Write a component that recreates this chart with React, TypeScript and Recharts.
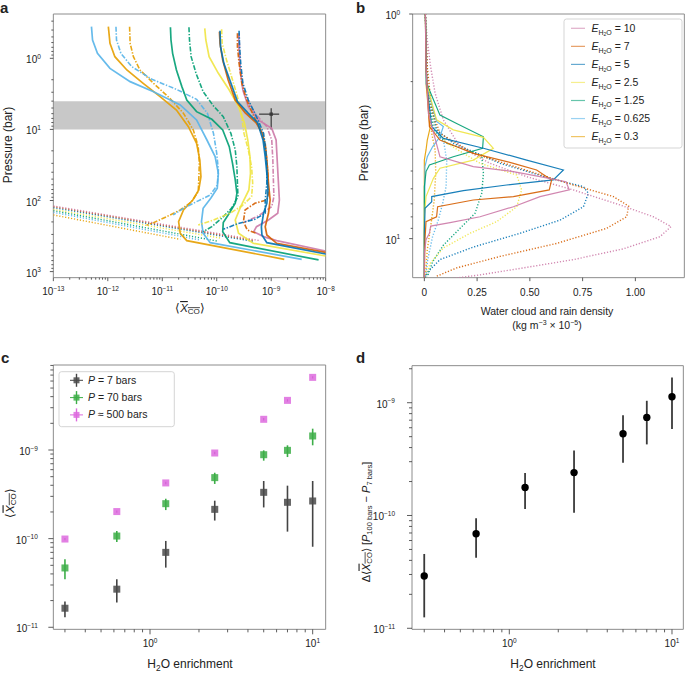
import React from 'react';
import { ScatterChart, Scatter, XAxis, YAxis, ReferenceArea, ErrorBar } from 'recharts';

const FONT = '"Liberation Sans", Arial, sans-serif';
const INK = '#222';
const TICK = '#333';
const FRAME = '#8c8c8c';

const C10 = '#CC79A7';
const C7 = '#D55E00';
const C5 = '#0072B2';
const C25 = '#F0E442';
const C125 = '#009E73';
const C0625 = '#56B4E9';
const C03 = '#E69F00';

type Pair = [number, number];

// ---- panel a: [log10 <X_CO>, log10 pressure(bar)] ----
const aPinkSolid: Pair[] = [[-9.60, -0.352], [-9.59, -0.117], [-9.57, 0.164], [-9.52, 0.445], [-9.42, 0.680], [-9.24, 0.867], [-8.99, 0.985], [-8.91, 1.149], [-8.89, 1.430], [-8.87, 1.711], [-8.85, 1.993], [-8.88, 2.180], [-9.05, 2.274], [-9.27, 2.368], [-9.32, 2.438], [-9.14, 2.508], [-8.90, 2.564], [-8.00, 2.710]];
const aPinkDash: Pair[] = [[-9.59, -0.352], [-9.57, 0.117], [-9.50, 0.492], [-9.30, 0.774], [-9.08, 0.961], [-8.99, 1.149], [-8.97, 1.430], [-8.96, 1.711], [-8.95, 1.946], [-8.99, 2.086], [-9.24, 2.218], [-9.51, 2.311]];
const aPinkDot: Pair[] = [[-13.0, 2.077], [-9.21, 2.564]];
const aRedSolid: Pair[] = [[-9.95, -0.375], [-9.94, -0.211], [-9.89, 0.023], [-9.79, 0.305], [-9.66, 0.586], [-9.48, 0.764], [-9.28, 0.905], [-9.16, 1.055], [-9.10, 1.289], [-9.07, 1.524], [-9.05, 1.758], [-9.02, 1.993], [-9.05, 2.180], [-9.11, 2.368], [-9.08, 2.485], [-8.90, 2.602], [-8.00, 2.729]];
const aRedDash: Pair[] = [[-9.62, -0.352], [-9.62, -0.164], [-9.59, 0.070], [-9.54, 0.352], [-9.45, 0.586], [-9.33, 0.797], [-9.21, 0.985], [-9.11, 1.196], [-9.08, 1.430], [-9.06, 1.664], [-9.05, 1.899], [-9.08, 1.993], [-9.30, 2.039], [-9.48, 2.133], [-9.51, 2.297], [-9.44, 2.414], [-9.27, 2.461]];
const aRedDot: Pair[] = [[-13.0, 2.086], [-9.33, 2.560]];
const aBlueSolid: Pair[] = [[-9.94, -0.389], [-9.93, -0.164], [-9.87, 0.070], [-9.76, 0.305], [-9.62, 0.609], [-9.42, 0.774], [-9.25, 0.905], [-9.15, 1.149], [-9.11, 1.383], [-9.08, 1.617], [-9.06, 1.852], [-9.08, 2.039], [-9.14, 2.180], [-9.18, 2.368], [-9.17, 2.485], [-9.08, 2.593], [-8.00, 2.752]];
const aBlueDash: Pair[] = [[-9.59, -0.389], [-9.58, -0.164], [-9.56, 0.070], [-9.52, 0.352], [-9.42, 0.586], [-9.27, 0.820], [-9.14, 1.055], [-9.10, 1.289], [-9.08, 1.524], [-9.08, 1.758], [-9.11, 1.993], [-9.11, 2.180], [-9.30, 2.264], [-9.63, 2.330], [-9.88, 2.405]];
const aBlueDot: Pair[] = [[-13.0, 2.100], [-9.33, 2.574]];
const aYellowSolid: Pair[] = [[-10.22, -0.422], [-10.20, -0.258], [-10.14, -0.023], [-9.97, 0.211], [-9.77, 0.445], [-9.60, 0.680], [-9.49, 0.914], [-9.43, 1.149], [-9.39, 1.383], [-9.38, 1.617], [-9.41, 1.852], [-9.56, 2.086], [-9.66, 2.274], [-9.60, 2.461], [-9.33, 2.602], [-8.00, 2.780]];
const aYellowDash: Pair[] = [[-9.91, -0.408], [-9.90, -0.211], [-9.82, 0.023], [-9.71, 0.305], [-9.62, 0.539], [-9.55, 0.774], [-9.50, 1.055], [-9.42, 1.289], [-9.36, 1.524], [-9.34, 1.758], [-9.36, 1.946], [-9.54, 2.077], [-9.76, 2.180], [-10.06, 2.274], [-10.34, 2.344]];
const aYellowDot: Pair[] = [[-13.0, 2.124], [-9.94, 2.527]];
const aGreenSolid: Pair[] = [[-10.85, -0.436], [-10.84, -0.258], [-10.81, -0.070], [-10.74, 0.164], [-10.64, 0.398], [-10.55, 0.586], [-10.37, 0.750], [-10.09, 0.858], [-9.89, 1.008], [-9.77, 1.242], [-9.71, 1.477], [-9.66, 1.711], [-9.63, 1.899], [-9.66, 2.039], [-9.77, 2.180], [-9.88, 2.311], [-9.89, 2.438], [-9.76, 2.593], [-8.13, 2.836]];
const aGreenDash: Pair[] = [[-10.51, -0.436], [-10.50, -0.258], [-10.47, -0.023], [-10.38, 0.211], [-10.25, 0.469], [-10.06, 0.670], [-9.88, 0.820], [-9.74, 1.055], [-9.66, 1.289], [-9.63, 1.524], [-9.62, 1.758], [-9.61, 1.946], [-9.73, 2.110], [-9.91, 2.250], [-10.09, 2.368], [-10.25, 2.438]];
const aGreenDot: Pair[] = [[-13.0, 2.142], [-10.0, 2.569]];
const aSkySolid: Pair[] = [[-12.30, -0.445], [-12.28, -0.258], [-12.19, -0.070], [-11.96, 0.141], [-11.59, 0.328], [-11.16, 0.469], [-10.67, 0.656], [-10.37, 0.867], [-10.18, 1.149], [-10.03, 1.383], [-9.97, 1.617], [-9.99, 1.828], [-10.11, 1.969], [-10.25, 2.110], [-10.28, 2.297], [-10.25, 2.461], [-10.12, 2.593], [-8.44, 2.827]];
const aSkyDash: Pair[] = [[-11.85, -0.445], [-11.84, -0.258], [-11.76, -0.070], [-11.56, 0.117], [-11.19, 0.295], [-10.74, 0.436], [-10.37, 0.577], [-10.17, 0.774], [-10.06, 1.055], [-10.00, 1.336], [-9.97, 1.571], [-9.99, 1.782], [-10.12, 1.922], [-10.37, 2.016], [-10.61, 2.110], [-10.80, 2.203]];
const aSkyDot: Pair[] = [[-13.0, 2.166], [-10.31, 2.555]];
const aOrangeSolid: Pair[] = [[-11.99, -0.445], [-11.96, -0.211], [-11.87, -0.023], [-11.65, 0.164], [-11.35, 0.352], [-11.04, 0.539], [-10.74, 0.727], [-10.52, 0.961], [-10.37, 1.196], [-10.31, 1.430], [-10.29, 1.664], [-10.33, 1.852], [-10.44, 1.993], [-10.61, 2.133], [-10.70, 2.297], [-10.67, 2.461], [-10.55, 2.564], [-8.76, 2.827]];
const aOrangeDash: Pair[] = [[-11.60, -0.445], [-11.59, -0.211], [-11.53, -0.023], [-11.41, 0.164], [-11.16, 0.352], [-10.86, 0.563], [-10.61, 0.774], [-10.43, 1.008], [-10.34, 1.242], [-10.32, 1.477], [-10.33, 1.711], [-10.34, 1.875], [-10.46, 2.016], [-10.67, 2.133], [-10.92, 2.227], [-11.16, 2.311], [-11.29, 2.349]];
const aOrangeDot: Pair[] = [[-13.0, 2.203], [-10.67, 2.546]];

// observed constraint: <X_CO> with x/y ranges
const aObsX = 1e-9;
const aObsP = 6.1;
const aObsXRange = [6.0e-10, 1.4e-9];
const aObsPRange = [5.05, 10];
const aBand = [4, 10];

// ---- panel b: [density (kg m-3 x 1e-5), pressure(bar)] ----
const bPinkSolid: Pair[] = [[0.005, 1], [0.008, 1.72], [0.019, 2.77], [0.074, 4.32], [0.232, 4.78], [0.422, 5.03], [0.548, 5.30], [0.671, 5.58], [0.687, 6.07], [0.548, 6.50], [0.422, 7.21], [0.264, 7.99], [0.122, 8.48], [0.030, 8.79], [0.024, 9.47], [0.008, 10.1], [0, 11.6], [0, 15]];
const bRedSolid: Pair[] = [[0.005, 1], [0.008, 1.72], [0.024, 3.17], [0.074, 3.64], [0.232, 4.17], [0.422, 4.62], [0.532, 4.95], [0.603, 5.48], [0.592, 6.07], [0.422, 6.50], [0.232, 6.73], [0.063, 7.21], [0.058, 7.99], [0.008, 8.40], [0.003, 10.1], [0, 15]];
const bBlueSolid: Pair[] = [[0.005, 1], [0.011, 2.04], [0.035, 3.17], [0.090, 3.58], [0.280, 3.96], [0.485, 4.47], [0.659, 4.95], [0.611, 5.48], [0.390, 5.77], [0.185, 6.11], [0.035, 6.50], [0.035, 6.85], [0.003, 7.33], [0, 9.47], [0, 15]];
const bYellowSolid: Pair[] = [[0.005, 1], [0.011, 2.04], [0.058, 2.96], [0.137, 3.28], [0.280, 3.54], [0.327, 3.96], [0.232, 4.47], [0.074, 4.86], [0.043, 5.39], [0.008, 6.50], [0, 7.99], [0, 15]];
const bGreenSolid: Pair[] = [[0.005, 1], [0.011, 2.04], [0.074, 2.82], [0.153, 3.07], [0.280, 3.52], [0.276, 3.96], [0.137, 4.32], [0.024, 4.70], [0.008, 5.03], [0, 5.87], [0, 15]];
const bSkySolid: Pair[] = [[0.005, 1], [0.008, 2.04], [0.058, 3.01], [0.090, 3.17], [0.074, 3.52], [0.039, 3.90], [0.014, 4.32], [0.003, 4.78], [0, 15]];
const bOrangeSolid: Pair[] = [[0.005, 1], [0.008, 2.04], [0.027, 3.22], [0.014, 3.64], [0.008, 4.03], [0, 4.47], [0, 15]];
const bPinkDot: Pair[] = [[0.005, 1], [0.014, 1.31], [0.030, 1.72], [0.051, 2.25], [0.090, 2.96], [0.169, 3.90], [0.311, 4.62], [0.485, 5.30], [0.706, 6.07], [0.927, 7.08], [1.085, 7.99], [1.169, 8.84], [1.117, 9.80], [0.943, 11.1], [0.706, 12.4], [0.469, 13.5], [0.264, 14.5], [0.122, 15.1]];
const bRedDot: Pair[] = [[0.005, 1], [0.014, 1.72], [0.035, 2.67], [0.074, 3.40], [0.232, 4.17], [0.453, 4.86], [0.706, 5.77], [0.896, 6.50], [0.968, 7.16], [0.959, 7.99], [0.864, 9.0], [0.627, 10.5], [0.359, 12.0], [0.153, 13.5], [0.051, 14.8]];
const bBlueDot: Pair[] = [[0.005, 1], [0.014, 2.04], [0.058, 3.28], [0.137, 3.76], [0.359, 4.62], [0.596, 5.39], [0.754, 5.87], [0.777, 6.28], [0.754, 7.21], [0.643, 8.27], [0.453, 9.47], [0.232, 10.9], [0.074, 12.4], [0.019, 14.0], [0.003, 15]];
const bYellowDot: Pair[] = [[0.005, 1], [0.014, 2.04], [0.051, 3.17], [0.106, 3.76], [0.264, 4.62], [0.438, 5.21], [0.461, 6.07], [0.438, 7.21], [0.343, 8.40], [0.216, 9.47], [0.090, 11.0], [0.027, 12.9], [0.008, 14.8]];
const bGreenDot: Pair[] = [[0.005, 1], [0.014, 2.04], [0.043, 3.28], [0.106, 3.76], [0.272, 4.25], [0.280, 5.12], [0.272, 6.28], [0.240, 7.72], [0.169, 9.0], [0.090, 10.7], [0.039, 12.7], [0.014, 14.8]];
const bSkyDot: Pair[] = [[0.005, 1], [0.014, 2.04], [0.051, 3.28], [0.093, 3.76], [0.106, 4.47], [0.103, 5.87], [0.087, 6.96], [0.066, 8.27], [0.039, 9.80], [0.016, 12.4], [0.005, 15]];
const bOrangeDot: Pair[] = [[0.005, 1], [0.011, 2.04], [0.035, 3.40], [0.051, 4.03], [0.054, 5.12], [0.047, 6.73], [0.030, 8.84], [0.014, 11.2], [0.005, 15]];
const bLegend = ['10', '7', '5', '2.5', '1.25', '0.625', '0.3'];
const bLegendColors = [C10, C7, C5, C25, C125, C0625, C03];
const bXTicks = [0, 0.25, 0.5, 0.75, 1];
const bXLabels = ['0', '0.25', '0.50', '0.75', '1.00'];

// ---- panels c, d ----
const enrich = [0.3, 0.625, 1.25, 2.5, 5, 7, 10];
const cP7 = [1.64e-11, 2.69e-11, 7.0e-11, 2.14e-10, 3.33e-10, 2.57e-10, 2.66e-10];
const cP7Lo = [1.30e-11, 1.90e-11, 4.71e-11, 1.60e-10, 2.25e-10, 1.20e-10, 8.1e-11];
const cP7Hi = [1.95e-11, 3.48e-11, 9.42e-11, 2.68e-10, 4.47e-10, 3.96e-10, 4.47e-10];
const cP70 = [4.67e-11, 1.07e-10, 2.48e-10, 4.88e-10, 8.85e-10, 9.91e-10, 1.44e-9];
const cP70Lo = [3.48e-11, 9.17e-11, 2.10e-10, 4.14e-10, 7.58e-10, 8.33e-10, 1.13e-9];
const cP70Hi = [5.85e-11, 1.22e-10, 2.82e-10, 5.54e-10, 9.91e-10, 1.13e-9, 1.74e-9];
const cP500 = [9.9e-11, 2.02e-10, 4.25e-10, 9.25e-10, 2.22e-9, 3.63e-9, 6.60e-9];
const cP500Lo = [9.6e-11, 1.96e-10, 4.12e-10, 8.97e-10, 2.15e-9, 3.52e-9, 6.40e-9];
const cP500Hi = [1.02e-10, 2.08e-10, 4.38e-10, 9.53e-10, 2.29e-9, 3.74e-9, 6.80e-9];
const dDelta = [2.91e-11, 6.9e-11, 1.77e-10, 2.40e-10, 5.31e-10, 7.41e-10, 1.13e-9];
const dLo = [1.25e-11, 4.23e-11, 1.14e-10, 1.06e-10, 2.94e-10, 4.27e-10, 5.85e-10];
const dHi = [4.56e-11, 9.44e-11, 2.38e-10, 3.76e-10, 7.73e-10, 1.04e-9, 1.67e-9];

// ---- axes ----
const aXDom = [1e-13, 1e-8];
const aYDom = [10 ** -0.6235, 10 ** 3.0853];
const bXDom = [-0.0553, 1.232];
const bYDom = [1, 14.92];
const cXDom = [0.2545, 12.02];
const cYDom = [9.48e-12, 9.1e-9];
const dXDom = [0.2523, 11.74];
const dYDom = [9.79e-12, 2.13e-9];

const logTicks = (lo: number, hi: number) => {
  const out: number[] = [];
  const e0 = Math.floor(Math.log10(lo));
  const e1 = Math.ceil(Math.log10(hi));
  for (let e = e0; e <= e1; e++) {
    for (let k = 1; k < 10; k++) {
      const v = Number(`${k}e${e}`);
      if (v >= lo * 0.9999 && v <= hi * 1.0001) out.push(v);
    }
  }
  return out;
};

const fmtE = (e: number) => (e < 0 ? '\u2212' + Math.abs(e) : String(e));
const isMajor = (v: number) => {
  const l = Math.log10(v);
  return Math.abs(l - Math.round(l)) < 1e-6;
};

const logXTick = (big: number, small: number, dy: number) => (props: any) => {
  const { x, y, payload } = props;
  const v = payload.value as number;
  const m = isMajor(v);
  return (
    <g>
      <line x1={x} x2={x} y1={y} y2={y + (m ? big : small)} stroke={TICK} strokeWidth={0.8} />
      {m && (
        <text x={x} y={y + dy} textAnchor="middle" fontSize={10} fill={INK} fontFamily={FONT}>
          10<tspan dy={-4.5} fontSize={6.5}>{fmtE(Math.round(Math.log10(v)))}</tspan>
        </text>
      )}
    </g>
  );
};

const logYTick = (big: number, small: number, gap: number) => (props: any) => {
  const { x, y, payload } = props;
  const v = payload.value as number;
  const m = isMajor(v);
  return (
    <g>
      <line x1={x - (m ? big : small)} x2={x} y1={y} y2={y} stroke={TICK} strokeWidth={0.8} />
      {m && (
        <text x={x - gap} y={y + 5} textAnchor="end" fontSize={10} fill={INK} fontFamily={FONT}>
          10<tspan dy={-4.5} fontSize={6.5}>{fmtE(Math.round(Math.log10(v)))}</tspan>
        </text>
      )}
    </g>
  );
};

const linXTick = (props: any) => {
  const { x, y, payload, index } = props;
  return (
    <g>
      <line x1={x} x2={x} y1={y} y2={y + 3.5} stroke={TICK} strokeWidth={0.8} />
      <text x={x} y={y + 18} textAnchor="middle" fontSize={10} fill={INK} fontFamily={FONT}>
        {bXLabels[index] ?? String(payload.value)}
      </text>
    </g>
  );
};

const NoDot = () => <g />;

const STYLE: Record<string, { w: number; da?: string }> = {
  solid: { w: 1.7 },
  dash: { w: 1.6, da: '5 1.6 1.4 1.6' },
  dot: { w: 1.4, da: '1.2 1.8' },
};

const aSeries = [
  { d: aOrangeDot, c: C03, k: 'dot' }, { d: aSkyDot, c: C0625, k: 'dot' }, { d: aGreenDot, c: C125, k: 'dot' },
  { d: aYellowDot, c: C25, k: 'dot' }, { d: aBlueDot, c: C5, k: 'dot' }, { d: aRedDot, c: C7, k: 'dot' }, { d: aPinkDot, c: C10, k: 'dot' },
  { d: aOrangeSolid, c: C03, k: 'solid' }, { d: aOrangeDash, c: C03, k: 'dash' },
  { d: aSkySolid, c: C0625, k: 'solid' }, { d: aSkyDash, c: C0625, k: 'dash' },
  { d: aGreenSolid, c: C125, k: 'solid' }, { d: aGreenDash, c: C125, k: 'dash' },
  { d: aYellowSolid, c: C25, k: 'solid' }, { d: aYellowDash, c: C25, k: 'dash' },
  { d: aPinkSolid, c: C10, k: 'solid' }, { d: aPinkDash, c: C10, k: 'dash' },
  { d: aRedSolid, c: C7, k: 'solid' }, { d: aRedDash, c: C7, k: 'dash' },
  { d: aBlueSolid, c: C5, k: 'solid' }, { d: aBlueDash, c: C5, k: 'dash' },
];

const bSeries = [
  { d: bOrangeDot, c: C03, k: 'dot' }, { d: bSkyDot, c: C0625, k: 'dot' }, { d: bGreenDot, c: C125, k: 'dot' },
  { d: bYellowDot, c: C25, k: 'dot' }, { d: bBlueDot, c: C5, k: 'dot' }, { d: bRedDot, c: C7, k: 'dot' }, { d: bPinkDot, c: C10, k: 'dot' },
  { d: bOrangeSolid, c: C03, k: 'solid' }, { d: bSkySolid, c: C0625, k: 'solid' }, { d: bGreenSolid, c: C125, k: 'solid' },
  { d: bYellowSolid, c: C25, k: 'solid' }, { d: bBlueSolid, c: C5, k: 'solid' }, { d: bRedSolid, c: C7, k: 'solid' }, { d: bPinkSolid, c: C10, k: 'solid' },
];

const rows = (v: number[], lo: number[], hi: number[]) =>
  enrich.map((x, i) => ({ x, y: v[i], err: [v[i] - lo[i], hi[i] - v[i]] }));

const square = (size: number, fill: string, op: number) => (props: any) => (
  <rect x={props.cx - size / 2} y={props.cy - size / 2} width={size} height={size} fill={fill} fillOpacity={op} />
);
const dot = (props: any) => <circle cx={props.cx} cy={props.cy} r={3.7} fill="#000" />;

function PanelA() {
  const obs = [{ x: aObsX, p: aObsP, ex: [aObsX - aObsXRange[0], aObsXRange[1] - aObsX], ey: [aObsP - aObsPRange[0], aObsPRange[1] - aObsP] }];
  return (
    <ScatterChart width={340} height={300} margin={{ top: 14, right: 14.33, bottom: 0, left: 0 }}>
      <XAxis type="number" dataKey="x" scale="log" domain={aXDom} allowDataOverflow ticks={logTicks(aXDom[0], aXDom[1])}
        interval={0} tickLine={false} axisLine={false} tickSize={0} tickMargin={0} height={22.33} tick={logXTick(3.5, 2, 17.5)} />
      <YAxis type="number" dataKey="p" scale="log" domain={aYDom} allowDataOverflow reversed ticks={logTicks(aYDom[0], aYDom[1])}
        interval={0} tickLine={false} axisLine={false} tickSize={0} tickMargin={0} width={53.33} tick={logYTick(3.5, 2, 12.5)} />
      <ReferenceArea x1={aXDom[0]} x2={aXDom[1]} y1={aBand[0]} y2={aBand[1]} fill="#c8c8c8" fillOpacity={1} stroke="none" />
      {aSeries.map((s, i) => (
        <Scatter key={i} data={s.d.map(([lx, lp]) => ({ x: 10 ** lx, p: 10 ** lp }))} shape={NoDot} isAnimationActive={false}
          line={{ stroke: s.c, strokeWidth: STYLE[s.k].w, strokeDasharray: STYLE[s.k].da, strokeOpacity: 0.9, fill: 'none' }} />
      ))}
      <Scatter data={obs} shape={square(3.5, '#333', 0.8)} isAnimationActive={false}>
        <ErrorBar dataKey="ex" direction="x" width={0} stroke="#444" strokeWidth={1.3} />
        <ErrorBar dataKey="ey" direction="y" width={0} stroke="#444" strokeWidth={1.3} />
      </Scatter>
      <ReferenceArea x1={aXDom[0]} x2={aXDom[1]} y1={aYDom[0]} y2={aYDom[1]} fill="none" stroke={FRAME} strokeWidth={1} />
    </ScatterChart>
  );
}

function PanelB() {
  return (
    <ScatterChart width={345} height={300} margin={{ top: 14, right: 0.67, bottom: 0, left: 0 }}>
      <XAxis type="number" dataKey="x" domain={bXDom} allowDataOverflow ticks={bXTicks} interval={0}
        tickLine={false} axisLine={false} tickSize={0} tickMargin={0} height={22.33} tick={linXTick} />
      <YAxis type="number" dataKey="p" scale="log" domain={bYDom} allowDataOverflow reversed ticks={logTicks(bYDom[0], bYDom[1])}
        interval={0} tickLine={false} axisLine={false} tickSize={0} tickMargin={0} width={72.67} tick={logYTick(3.5, 2, 12.5)} />
      {bSeries.map((s, i) => (
        <Scatter key={i} data={s.d.map(([x, p]) => ({ x, p }))} shape={NoDot} isAnimationActive={false}
          line={{ stroke: s.c, strokeWidth: s.k === 'dot' ? 1.4 : 1.2, strokeDasharray: s.k === 'dot' ? '1.2 1.8' : undefined, strokeOpacity: 0.9, fill: 'none' }} />
      ))}
      <ReferenceArea x1={bXDom[0]} x2={bXDom[1]} y1={bYDom[0]} y2={bYDom[1]} fill="none" stroke={FRAME} strokeWidth={1} />
    </ScatterChart>
  );
}

function PanelC() {
  return (
    <ScatterChart width={340} height={320} margin={{ top: 25, right: 14.33, bottom: 0, left: 0 }}>
      <XAxis type="number" dataKey="x" scale="log" domain={cXDom} allowDataOverflow ticks={logTicks(cXDom[0], cXDom[1])}
        interval={0} tickLine={false} axisLine={false} tickSize={0} tickMargin={0} height={30.67} tick={logXTick(5, 3, 18)} />
      <YAxis type="number" dataKey="y" scale="log" domain={cYDom} allowDataOverflow ticks={logTicks(cYDom[0], cYDom[1])}
        interval={0} tickLine={false} axisLine={false} tickSize={0} tickMargin={0} width={53.33} tick={logYTick(5, 3, 15.5)} />
      <Scatter data={rows(cP7, cP7Lo, cP7Hi)} shape={square(7, '#4a4a4a', 0.85)} isAnimationActive={false}>
        <ErrorBar dataKey="err" direction="y" width={0} stroke="#444" strokeWidth={1.6} />
      </Scatter>
      <Scatter data={rows(cP70, cP70Lo, cP70Hi)} shape={square(7, '#3dae48', 0.85)} isAnimationActive={false}>
        <ErrorBar dataKey="err" direction="y" width={0} stroke="#3dae48" strokeWidth={1.6} />
      </Scatter>
      <Scatter data={rows(cP500, cP500Lo, cP500Hi)} shape={square(7, '#dd6ade', 0.85)} isAnimationActive={false}>
        <ErrorBar dataKey="err" direction="y" width={0} stroke="#a040a0" strokeWidth={1.2} />
      </Scatter>
      <ReferenceArea x1={cXDom[0]} x2={cXDom[1]} y1={cYDom[0]} y2={cYDom[1]} fill="none" stroke={FRAME} strokeWidth={1} />
    </ScatterChart>
  );
}

function PanelD() {
  return (
    <ScatterChart width={345} height={320} margin={{ top: 25.67, right: 1.67, bottom: 0, left: 0 }}>
      <XAxis type="number" dataKey="x" scale="log" domain={dXDom} allowDataOverflow ticks={logTicks(dXDom[0], dXDom[1])}
        interval={0} tickLine={false} axisLine={false} tickSize={0} tickMargin={0} height={30.67} tick={logXTick(5, 3, 18)} />
      <YAxis type="number" dataKey="y" scale="log" domain={dYDom} allowDataOverflow ticks={logTicks(dYDom[0], dYDom[1])}
        interval={0} tickLine={false} axisLine={false} tickSize={0} tickMargin={0} width={72} tick={logYTick(5, 3, 17)} />
      <Scatter data={rows(dDelta, dLo, dHi)} shape={dot} isAnimationActive={false}>
        <ErrorBar dataKey="err" direction="y" width={0} stroke="#3a3a3a" strokeWidth={1.8} />
      </Scatter>
      <ReferenceArea x1={dXDom[0]} x2={dXDom[1]} y1={dYDom[0]} y2={dYDom[1]} fill="none" stroke={FRAME} strokeWidth={1} />
    </ScatterChart>
  );
}

const XCO = ({ fs }: { fs: number }) => (
  <>
    <tspan>{'\u27E8'}</tspan>
    <tspan textDecoration="overline" fontStyle="italic">X</tspan>
    <tspan textDecoration="overline" fontSize={fs * 0.7} dy={fs * 0.2}>CO</tspan>
    <tspan dy={-fs * 0.2}>{'\u27E9'}</tspan>
  </>
);

const H2O = ({ fs }: { fs: number }) => (
  <>
    H<tspan fontSize={fs * 0.7} dy={fs * 0.25}>2</tspan><tspan dy={-fs * 0.25}>O enrichment</tspan>
  </>
);

function Overlay() {
  const legendC = [
    { label: '7', eq: '=', c: '#4a4a4a', bar: '#444' },
    { label: '70', eq: '=', c: '#3dae48', bar: '#3dae48' },
    { label: '500', eq: '\u2248', c: '#dd6ade', bar: '#dd6ade' },
  ];
  return (
    <svg width={685} height={673} style={{ position: 'absolute', left: 0, top: 0, pointerEvents: 'none' }} fontFamily={FONT} fill={INK}>
      <text x={0} y={12.5} fontSize={15} fontWeight="bold">a</text>
      <text x={356} y={12.5} fontSize={15} fontWeight="bold">b</text>
      <text x={1} y={363} fontSize={15} fontWeight="bold">c</text>
      <text x={356} y={363} fontSize={15} fontWeight="bold">d</text>

      <text transform="translate(11.5,145) rotate(-90)" textAnchor="middle" fontSize={12}>Pressure (bar)</text>
      <text x={190} y={312} textAnchor="middle" fontSize={11.5}><XCO fs={11.5} /></text>

      <text transform="translate(367.5,143) rotate(-90)" textAnchor="middle" fontSize={12}>Pressure (bar)</text>
      <text x={547} y={315} textAnchor="middle" fontSize={10.5}>Water cloud and rain density</text>
      <text x={547} y={328.5} textAnchor="middle" fontSize={10.5}>
        (kg m<tspan dy={-4} fontSize={7}>{'\u22123'}</tspan><tspan dy={4}> × 10</tspan><tspan dy={-4} fontSize={7}>{'\u22125'}</tspan><tspan dy={4}>)</tspan>
      </text>

      <rect x={564} y={19} width={118} height={129} rx={2.5} fill="#fff" fillOpacity={0.85} stroke="#d0d0d0" strokeWidth={0.9} />
      {bLegend.map((v, i) => {
        const y = 28.3 + i * 18.05;
        return (
          <g key={v}>
            <line x1={571} x2={585} y1={y} y2={y} stroke={bLegendColors[i]} strokeWidth={1.2} strokeOpacity={0.6} />
            <text x={591.5} y={y + 3.5} fontSize={10.5}>
              <tspan fontStyle="italic">E</tspan>
              <tspan fontSize={7} dy={3}>H</tspan>
              <tspan fontSize={5} dy={1.5}>2</tspan>
              <tspan fontSize={7} dy={-1.5}>O</tspan>
              <tspan dy={-3}>{` = ${v}`}</tspan>
            </text>
          </g>
        );
      })}

      <text transform="translate(13.5,503) rotate(-90)" textAnchor="middle" fontSize={11.5}><XCO fs={11.5} /></text>
      <text x={190} y={668} textAnchor="middle" fontSize={12}><H2O fs={12} /></text>
      <rect x={59} y={371.7} width={115.3} height={55} rx={2.5} fill="#fff" fillOpacity={0.85} stroke="#d0d0d0" strokeWidth={0.9} />
      {legendC.map((e, i) => {
        const y = 380.3 + i * 17.3;
        return (
          <g key={e.label}>
            <line x1={70} x2={83} y1={y} y2={y} stroke={e.bar} strokeWidth={1} />
            <line x1={76.5} x2={76.5} y1={y - 6.5} y2={y + 6.5} stroke={e.bar} strokeWidth={1.4} />
            <rect x={73.5} y={y - 3} width={6} height={6} fill={e.c} fillOpacity={0.85} />
            <text x={88} y={y + 3.5} fontSize={10.5}>
              <tspan fontStyle="italic">P</tspan>{` ${e.eq} ${e.label} bars`}
            </text>
          </g>
        );
      })}

      <text transform="translate(369.5,522) rotate(-90)" textAnchor="middle" fontSize={11}>
        {'\u0394'}<XCO fs={11} />
        <tspan> [</tspan><tspan fontStyle="italic">P</tspan>
        <tspan fontSize={7.5} dy={2.5}>100 bars</tspan>
        <tspan dy={-2.5}>{' \u2212 '}</tspan><tspan fontStyle="italic">P</tspan>
        <tspan fontSize={7.5} dy={2.5}>7 bars</tspan>
        <tspan dy={-2.5}>]</tspan>
      </text>
      <text x={553} y={668} textAnchor="middle" fontSize={12}><H2O fs={12} /></text>
    </svg>
  );
}

export default function App() {
  return (
    <div style={{ position: 'absolute', left: 0, top: 0, width: 685, height: 673, background: '#fff', fontFamily: FONT }}>
      <div style={{ position: 'absolute', left: 0, top: 0 }}><PanelA /></div>
      <div style={{ position: 'absolute', left: 340, top: 0 }}><PanelB /></div>
      <div style={{ position: 'absolute', left: 0, top: 340 }}><PanelC /></div>
      <div style={{ position: 'absolute', left: 340, top: 340 }}><PanelD /></div>
      <Overlay />
    </div>
  );
}
